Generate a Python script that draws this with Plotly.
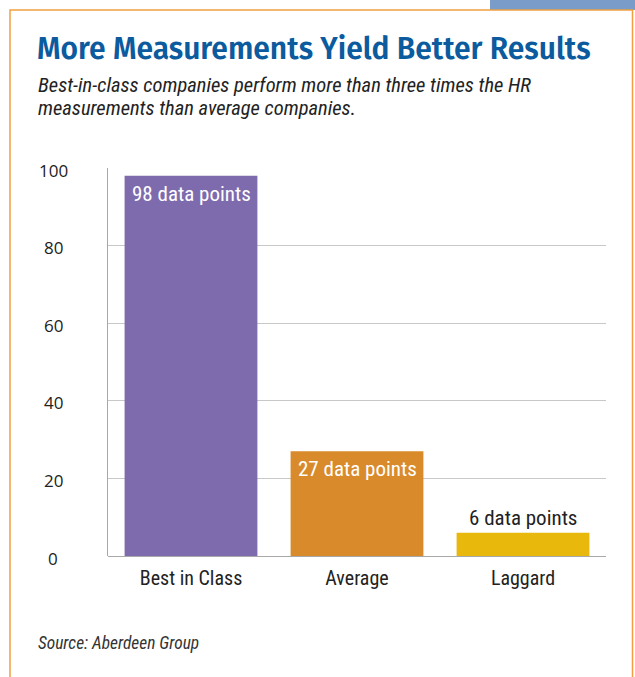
import plotly.graph_objects as go

categories = ["Best in Class", "Average", "Laggard"]
values = [98, 27, 6]
bar_labels = ["98 data points", "27 data points", "6 data points"]
bar_colors = ["#7E6BAD", "#D98B2B", "#E8B80C"]
label_colors = ["#FFFFFF", "#FFFFFF", "#222222"]
label_inside = [True, True, False]
y_ticks = [0, 20, 40, 60, 80, 100]

title = "More Measurements Yield Better Results"
subtitle_lines = ["Best-in-class companies perform more than three times the HR",
                  "measurements than average companies."]
source = "Source: Aberdeen Group"

NARROW = "Roboto Condensed, Liberation Sans Narrow, Arial Narrow, sans-serif"

# pixel layout
W, H = 635, 677
L, R, T, B = 108, 29, 168, 121
PW, PH = W - L - R, H - T - B


def px(x):
    return (x - L) / PW


def py(y):
    return (H - B - y) / PH


fig = go.Figure()
fig.add_trace(go.Bar(
    x=categories, y=values, width=0.8,
    marker=dict(color=bar_colors, line=dict(width=0)),
    hoverinfo="skip",
))

annotations = []
for t in y_ticks:
    annotations.append(dict(
        x=px(53), xref="paper", y=t, yref="y", text=str(t), showarrow=False,
        xanchor="center", yanchor="middle", yshift=-2,
        font=dict(family="Open Sans, sans-serif", size=17, color="#222222")))

for cat, v, lab, col, inside in zip(categories, values, bar_labels, label_colors, label_inside):
    annotations.append(dict(
        x=cat, y=v, xref="x", yref="y", text=lab, showarrow=False,
        xanchor="center", yanchor="top" if inside else "bottom",
        yshift=-4 if inside else 1,
        font=dict(family=NARROW, size=21, color=col)))

annotations.append(dict(
    x=px(35), y=py(49), xref="paper", yref="paper", text=title,
    showarrow=False, xanchor="left", yanchor="middle",
    font=dict(family="Fira Sans, Lato, sans-serif", size=30, weight=600, color="#0B5B9E")))
for i, line in enumerate(subtitle_lines):
    annotations.append(dict(
        x=px(36), y=py(85 + 23 * i), xref="paper", yref="paper", text="<i>" + line + "</i>",
        showarrow=False, xanchor="left", yanchor="middle", align="left",
        font=dict(family=NARROW, size=20.5, color="#222222")))
annotations.append(dict(
    x=px(36), y=py(643), xref="paper", yref="paper", text="<i>" + source + "</i>",
    showarrow=False, xanchor="left", yanchor="middle",
    font=dict(family=NARROW, size=17.4, color="#333333")))

shapes = [
    dict(type="rect", xref="paper", yref="paper", x0=px(490), x1=px(640), y0=py(10), y1=py(-5),
         fillcolor="#7A9CC8", line=dict(width=0), layer="below"),
    dict(type="path", xref="paper", yref="paper",
         path=f"M {px(10)} {py(700)} L {px(10)} {py(10)} L {px(632.5)} {py(10)} L {px(632.5)} {py(700)}",
         line=dict(color="#F0A040", width=1.5), layer="below"),
]

fig.update_layout(
    width=W, height=H,
    margin=dict(l=L, r=R, t=T, b=B, pad=0),
    paper_bgcolor="white", plot_bgcolor="white",
    showlegend=False,
    bargap=0.2,
    xaxis=dict(range=[-0.5, 2.5], showgrid=False, zeroline=False, showline=False,
               ticks="", tickfont=dict(family=NARROW, size=20, color="#222222"),
               ticklabelstandoff=8, fixedrange=True),
    yaxis=dict(range=[0, 100], tickvals=y_ticks, showticklabels=False,
               showgrid=True, gridcolor="#C8C8C8", gridwidth=1,
               zeroline=True, zerolinecolor="#A8A8A8", zerolinewidth=1,
               showline=True, linecolor="#A8A8A8", linewidth=1, ticks="", fixedrange=True),
    annotations=annotations,
    shapes=shapes,
)

fig.write_html("out.html")
